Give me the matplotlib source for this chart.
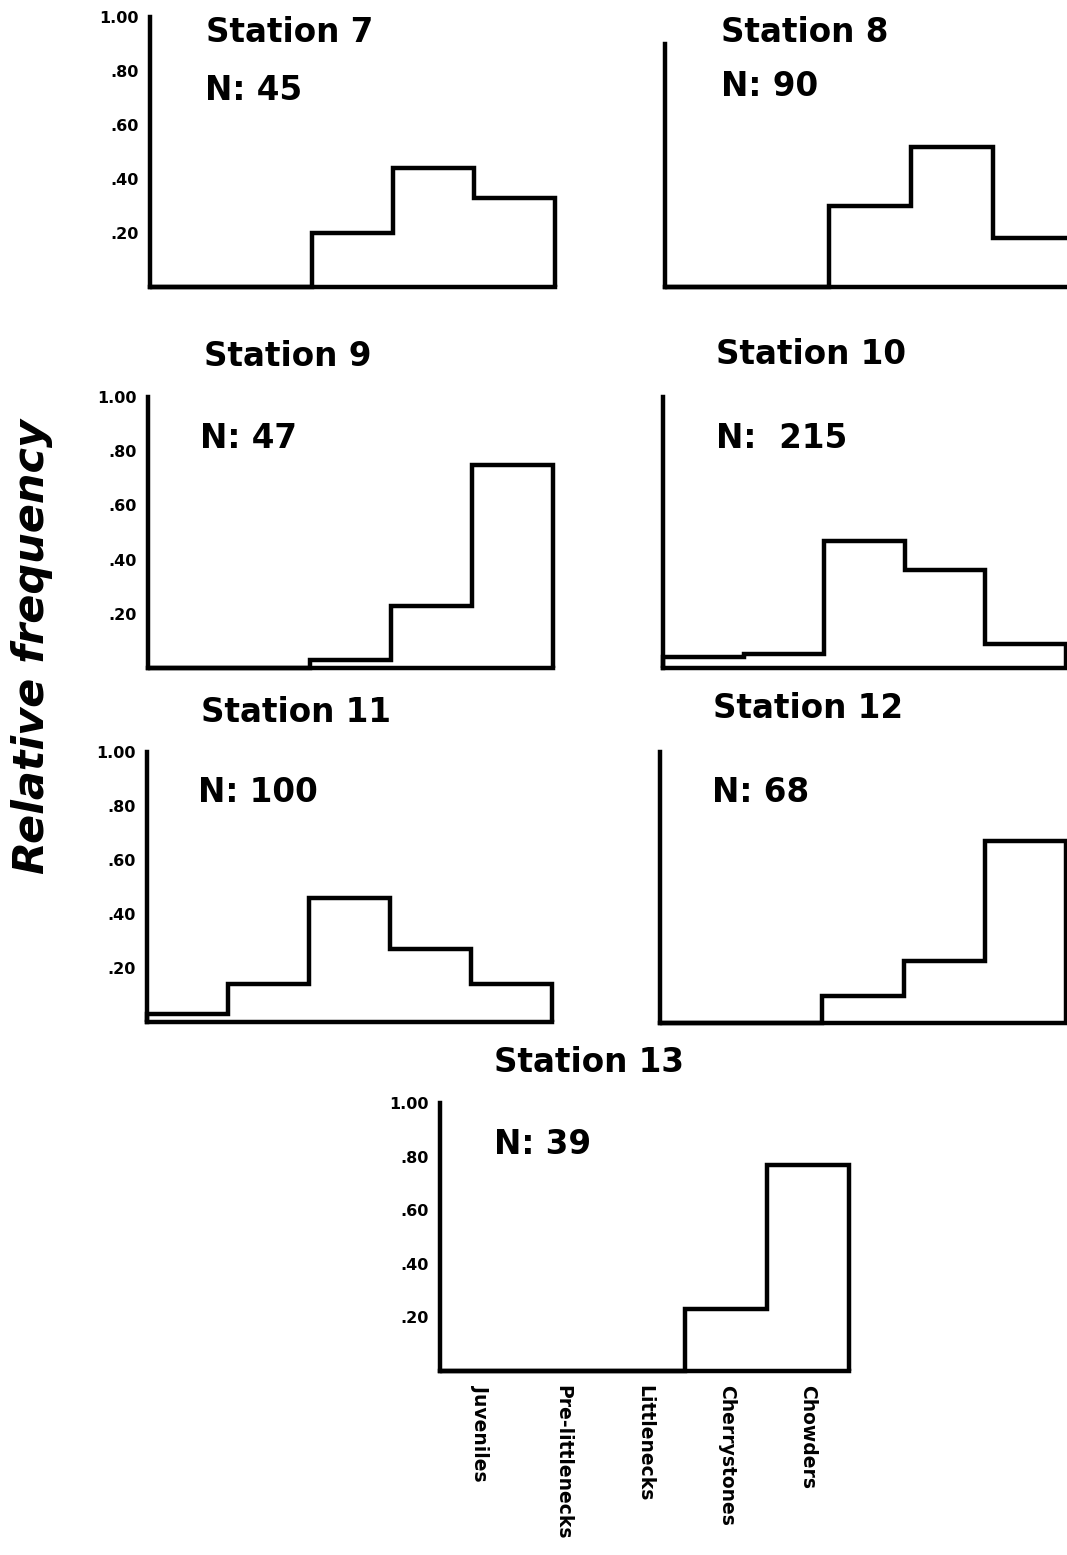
import matplotlib
matplotlib.use("Agg")
import matplotlib.pyplot as plt
import numpy as np

W, H = 1067, 1555

categories = ["Juveniles", "Pre-littlenecks", "Littlenecks", "Cherrystones", "Chowders"]
stations = ["Station 7", "Station 8", "Station 9", "Station 10", "Station 11", "Station 12", "Station 13"]
n_labels = ["N: 45", "N: 90", "N: 47", "N:  215", "N: 100", "N: 68", "N: 39"]

st7 = [0.00, 0.00, 0.20, 0.44, 0.33]
st8 = [0.00, 0.00, 0.30, 0.52, 0.18]
st9 = [0.00, 0.00, 0.03, 0.23, 0.75]
st10 = [0.04, 0.05, 0.47, 0.36, 0.09]
st11 = [0.03, 0.14, 0.46, 0.27, 0.14]
st12 = [0.00, 0.00, 0.10, 0.23, 0.67]
st13 = [0.00, 0.00, 0.00, 0.23, 0.77]
series = [st7, st8, st9, st10, st11, st12, st13]

ytick_vals = [0.20, 0.40, 0.60, 0.80, 1.00]
ytick_labels = [".20", ".40", ".60", ".80", "1.00"]

# layout in pixels: x0, x1, y_top(1.0), y_base(0)
layout = [
    (150, 555, 17, 287),
    (665, 1075, 17, 287),
    (148, 553, 397, 668),
    (663, 1066, 397, 668),
    (147, 552, 752, 1022),
    (660, 1066, 752, 1023),
    (440, 849, 1103, 1371),
]
spine_top = [1.0, 0.9, 1.0, 1.0, 1.0, 1.0, 1.0]
show_yticks = [True, False, True, False, True, False, True]
# title / N positions (pixels, left x, center y)
title_pos = [(206, 32), (721, 32), (204, 356), (716, 355), (201, 712), (713, 708), (494, 1063)]
n_pos = [(205, 90), (721, 87), (200, 438), (716, 438), (198, 793), (712, 792), (494, 1145)]

fig = plt.figure(figsize=(W / 100, H / 100), dpi=100)
fam = ["DejaVu Sans"]
lw = 3.2

edges = np.arange(len(categories) + 1)
for i, vals in enumerate(series):
    x0, x1, yt, yb = layout[i]
    ax = fig.add_axes([x0 / W, 1 - yb / H, (x1 - x0) / W, (yb - yt) / H])
    ax.set_xlim(0, len(categories))
    ax.set_ylim(0, 1)
    ax.stairs(vals, edges, baseline=0, color="black", lw=lw, clip_on=False)
    for s in ["top", "right"]:
        ax.spines[s].set_visible(False)
    ax.spines["left"].set_linewidth(lw)
    ax.spines["bottom"].set_linewidth(lw)
    ax.spines["left"].set_bounds(0, spine_top[i])
    ax.patch.set_alpha(0)
    if show_yticks[i]:
        ax.set_yticks(ytick_vals)
        ax.set_yticklabels(ytick_labels, fontsize=11.5, fontweight="bold", family=fam)
        ax.tick_params(axis="y", length=0, pad=8)
    else:
        ax.set_yticks([])
    if i == len(series) - 1:
        ax.set_xticks(edges[:-1] + 0.5)
        ax.set_xticklabels(categories, rotation=-90, fontsize=13.5, fontweight="bold", family=fam)
        ax.tick_params(axis="x", length=0, pad=10)
    else:
        ax.set_xticks([])
    tx, ty = title_pos[i]
    fig.text(tx / W, 1 - ty / H, stations[i], fontsize=23.5, fontweight="bold",
             family=fam, ha="left", va="center")
    nx, ny = n_pos[i]
    fig.text(nx / W, 1 - ny / H, n_labels[i], fontsize=23.5, fontweight="bold",
             family=fam, ha="left", va="center")

fig.text(32 / W, 1 - 646 / H, "Relative frequency", rotation=90, fontsize=31,
         fontweight="bold", fontstyle="italic", family=fam, ha="center", va="center")

fig.savefig("out.png", dpi=100, facecolor="white")
